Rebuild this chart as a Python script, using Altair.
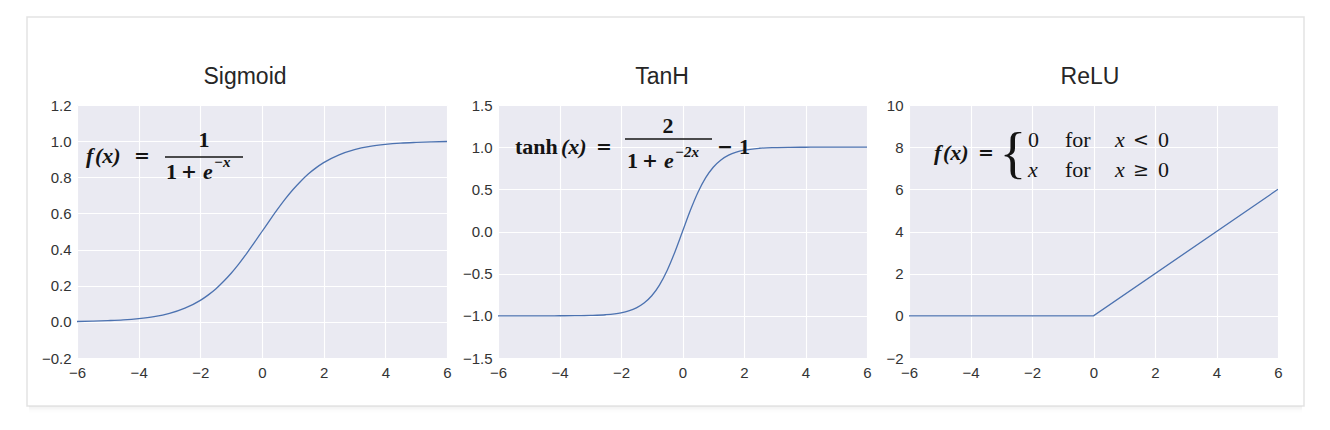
import altair as alt
import pandas as pd

# ---------------- data ----------------
titles = ["Sigmoid", "TanH", "ReLU"]

x_pts = [-6, -5.5, -5, -4.5, -4, -3.5, -3, -2.5, -2,
         -1.75, -1.5, -1.25, -1, -0.75, -0.5, -0.25, 0,
         0.25, 0.5, 0.75, 1, 1.25, 1.5, 1.75, 2,
         2.5, 3, 3.5, 4, 4.5, 5, 5.5, 6]
sigmoid_vals = [0.002, 0.004, 0.007, 0.011, 0.018, 0.029, 0.047, 0.076, 0.119,
                0.148, 0.182, 0.223, 0.269, 0.321, 0.378, 0.438, 0.500,
                0.562, 0.622, 0.679, 0.731, 0.777, 0.818, 0.852, 0.881,
                0.924, 0.953, 0.971, 0.982, 0.989, 0.993, 0.996, 0.998]
tanh_vals = [-1.000, -1.000, -1.000, -1.000, -0.999, -0.998, -0.995, -0.987, -0.964,
             -0.941, -0.905, -0.848, -0.762, -0.635, -0.462, -0.245, 0.000,
             0.245, 0.462, 0.635, 0.762, 0.848, 0.905, 0.941, 0.964,
             0.987, 0.995, 0.998, 0.999, 1.000, 1.000, 1.000, 1.000]
relu_x = [-6, 0, 6]
relu_vals = [0, 0, 6]

x_ticks = [-6, -4, -2, 0, 2, 4, 6]
sig_y_ticks = [-0.2, 0.0, 0.2, 0.4, 0.6, 0.8, 1.0, 1.2]
tanh_y_ticks = [-1.5, -1.0, -0.5, 0.0, 0.5, 1.0, 1.5]
relu_y_ticks = [-2, 0, 2, 4, 6, 8, 10]

# ---------------- styling ----------------
LINE = "#4C72B0"
INK = "#141414"
SERIF = "Liberation Serif"
OPS = "DejaVu Serif"
SANS = "Liberation Sans"
H = 253
one = pd.DataFrame({"k": [0]})


def txt(s, x, y, size=22, style="normal", weight="bold", align="left", font=SERIF,
        color=INK, baseline="middle"):
    return alt.Chart(one).mark_text(
        text=s, align=align, baseline=baseline, font=font, fontSize=size,
        fontStyle=style, fontWeight=weight, color=color, clip=False
    ).encode(x=alt.value(x), y=alt.value(y))


def op(s, x, y, weight="bold", align="left"):
    return txt(s, x, y, size=19, weight=weight, font=OPS, align=align)


def bar(x1, x2, y):
    return alt.Chart(one).mark_rule(color=INK, strokeWidth=1.5, clip=False).encode(
        x=alt.value(x1), x2=alt.value(x2), y=alt.value(y))


def head(s, cx):
    return txt(s, cx, -21, size=23, weight="normal", align="center", font=SANS,
               color="#262626", baseline="alphabetic")


def panel(df, ydom, yticks, yfmt, width, interp, extra, xrange=None):
    xscale = dict(domain=[-6, 6], nice=False, zero=False)
    if xrange is not None:
        xscale["range"] = xrange
    line = alt.Chart(df).mark_line(color=LINE, strokeWidth=1.3, interpolate=interp, clip=True).encode(
        x=alt.X("x:Q", scale=alt.Scale(**xscale),
                axis=alt.Axis(values=x_ticks, format="d", title=None, labelFlush=False,
                              labelOverlap=False, labelPadding=7)),
        y=alt.Y("y:Q", scale=alt.Scale(domain=ydom, nice=False, zero=False),
                axis=alt.Axis(values=yticks, format=yfmt, title=None, labelOverlap=False,
                              labelPadding=6)),
    )
    return alt.layer(line, *extra).properties(width=width, height=H)


sig_df = pd.DataFrame({"x": x_pts, "y": sigmoid_vals})
tanh_df = pd.DataFrame({"x": x_pts, "y": tanh_vals})
relu_df = pd.DataFrame({"x": relu_x, "y": relu_vals})

# card border + soft shadow (drawn from panel 1, outside its plot)
card = alt.Chart(one).mark_rect(fillOpacity=0, stroke="#e3e3e3", strokeWidth=1.5, clip=False).encode(
    x=alt.value(-50), x2=alt.value(1227), y=alt.value(-88), y2=alt.value(301))
shadow = [
    alt.Chart(one).mark_rule(color="#000000", opacity=o, strokeWidth=1, clip=False).encode(
        x=alt.value(-48), x2=alt.value(1225), y=alt.value(302 + i))
    for i, o in enumerate([0.05, 0.04, 0.03, 0.02, 0.012, 0.006])
]
strip = alt.Chart(one).mark_rect(color="white", clip=False).encode(
    x=alt.value(370.5), x2=alt.value(380), y=alt.value(-1), y2=alt.value(H + 1))

sig_formula = [
    head(titles[0], 168),
    txt("f", 9, 51, style="italic"),
    txt("(x)", 18, 51, style="italic"),
    op("=", 57, 51),
    txt("1", 127, 35, align="center"),
    bar(88, 166, 52),
    txt("1", 89, 67),
    op("+", 104, 67),
    txt("e", 126, 67, style="italic"),
    txt("\u2212x", 137, 57, size=15, style="italic"),
]
tanh_formula = [
    head(titles[1], 164),
    txt("tanh", 17, 42),
    txt("(x)", 63, 42, style="italic"),
    op("=", 98, 42),
    txt("2", 170, 21, align="center"),
    bar(127, 214, 34),
    txt("1", 129, 56),
    op("+", 144, 56),
    txt("e", 166, 56, style="italic"),
    txt("\u22122x", 177, 47, size=15, style="italic"),
    op("\u2212", 219, 42),
    txt("1", 241, 42),
]
relu_formula = [
    head(titles[2], 181),
    txt("f", 25, 48, style="italic"),
    txt("(x)", 34, 48, style="italic"),
    op("=", 69, 48),
    txt("{", 104, 50, size=56, weight="normal", align="center"),
    txt("0", 119, 35, weight="normal"),
    txt("for", 156, 35, weight="normal"),
    txt("x", 206, 35, style="italic", weight="normal"),
    op("<", 224, 35, weight="normal"),
    txt("0", 249, 35, weight="normal"),
    txt("x", 119, 65, style="italic", weight="normal"),
    txt("for", 156, 65, weight="normal"),
    txt("x", 206, 65, style="italic", weight="normal"),
    op("\u2265", 224, 65, weight="normal"),
    txt("0", 249, 65, weight="normal"),
]

p1 = panel(sig_df, [-0.2, 1.2], sig_y_ticks, ".1f", 379, "monotone",
           [strip, card] + shadow + sig_formula, xrange=[0, 370])
p2 = panel(tanh_df, [-1.5, 1.5], tanh_y_ticks, ".1f", 369, "monotone", tanh_formula)
p3 = panel(relu_df, [-2, 10], relu_y_ticks, "d", 369, "linear", relu_formula)

chart = alt.hconcat(p1, p2, p3, spacing=42, bounds="flush").properties(
    padding={"left": 18, "top": 8, "right": 5, "bottom": 5},
    background="white",
).configure_view(
    fill="#EAEAF2", strokeWidth=0
).configure_axis(
    domain=False, ticks=False, grid=True, gridColor="#ffffff", gridWidth=1.1,
    labelFont=SANS, labelFontSize=15, labelColor="#333333",
)

chart.save("out.html", embed_options={"renderer": "svg", "actions": False})
